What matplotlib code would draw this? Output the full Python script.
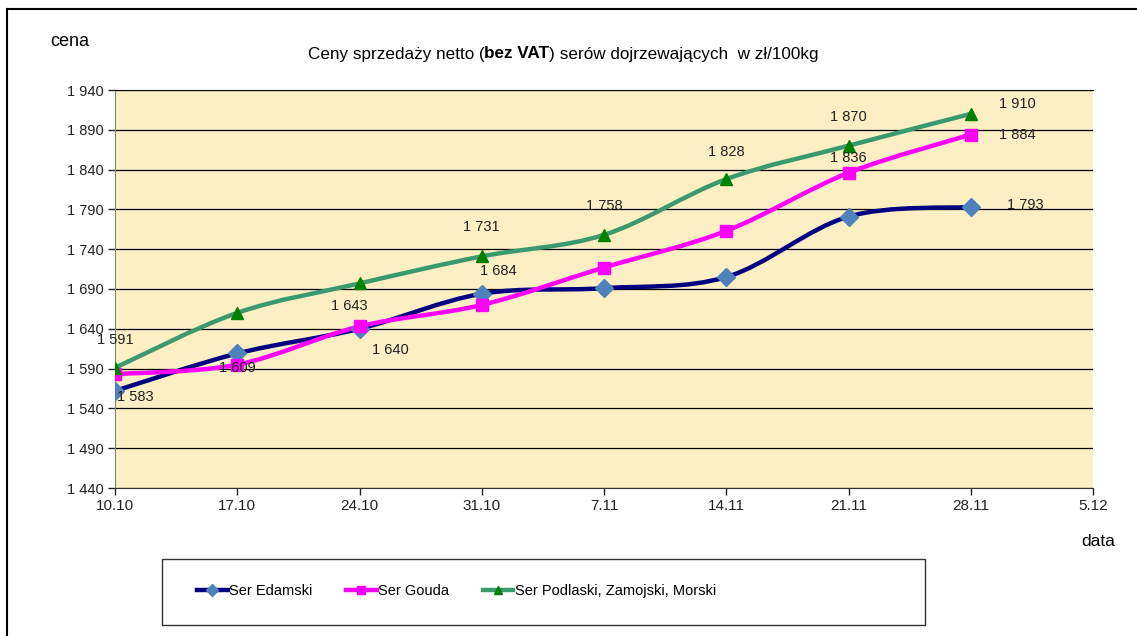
import matplotlib
matplotlib.use('Agg')
import matplotlib.pyplot as plt
import matplotlib.dates as mdates
import matplotlib.ticker as ticker
from matplotlib.path import Path
from matplotlib.patches import PathPatch, Rectangle
from matplotlib.lines import Line2D
import pandas as pd

plt.rcParams['font.family'] = ['Liberation Sans', 'DejaVu Sans']

# data
dates = ['10.10', '17.10', '24.10', '31.10', '7.11', '14.11', '21.11', '28.11']
tick_dates = dates + ['5.12']
y_ticks = [1440, 1490, 1540, 1590, 1640, 1690, 1740, 1790, 1840, 1890, 1940]
edamski = [1562, 1609, 1640, 1684, 1691, 1705, 1781, 1793]
gouda = [1583, 1595, 1643, 1670, 1717, 1763, 1836, 1884]
podlaski = [1591, 1660, 1697, 1731, 1758, 1828, 1870, 1910]
names = ['Ser Edamski', 'Ser Gouda', 'Ser Podlaski, Zamojski, Morski']

# which points carry a value label, and where (pixel offset: dx right, dy down)
labels_edamski = {1: (0, 15), 2: (31, 21), 3: (17, -23), 7: (55, -2)}
labels_gouda = {0: (20, 23), 2: (-10, -20), 6: (0, -15), 7: (47, 0)}
labels_podlaski = {0: (0, -28), 3: (0, -29), 4: (0, -29), 5: (0, -27), 6: (0, -29), 7: (47, -10)}


def to_num(labels):
    return [mdates.date2num(pd.Timestamp(2012, int(s.split('.')[1]), int(s.split('.')[0])))
            for s in labels]


def smooth_path(xs, ys):
    # Excel-like smoothed line: Catmull-Rom segments as cubic Beziers
    pts = list(zip(xs, ys))
    verts = [pts[0]]
    codes = [Path.MOVETO]
    n = len(pts)
    for i in range(n - 1):
        p0 = pts[i - 1] if i > 0 else pts[i]
        p1 = pts[i]
        p2 = pts[i + 1]
        p3 = pts[i + 2] if i + 2 < n else pts[i + 1]
        c1 = (p1[0] + (p2[0] - p0[0]) / 6, p1[1] + (p2[1] - p0[1]) / 6)
        c2 = (p2[0] - (p3[0] - p1[0]) / 6, p2[1] - (p3[1] - p1[1]) / 6)
        verts += [c1, c2, p2]
        codes += [Path.CURVE4] * 3
    return Path(verts, codes)


x = to_num(dates)
xt = to_num(tick_dates)

fig = plt.figure(figsize=(11.37, 6.36), dpi=100)
ax = fig.add_axes([115 / 1137, 1 - 488 / 636, 978 / 1137, 398 / 636])
ax.set_facecolor('#FDEFC4')

series = [
    (edamski, '#000080', 'D', '#4F81BD', 9, labels_edamski),
    (gouda, '#FF00FF', 's', '#FF00FF', 8, labels_gouda),
    (podlaski, '#3A9A6E', '^', '#008000', 9, labels_podlaski),
]

handles = []
for (vals, lc, mk, mc, ms, labs), name in zip(series, names):
    ax.add_patch(PathPatch(smooth_path(x, vals), fill=False, edgecolor=lc, lw=3.2,
                           capstyle='round', joinstyle='round', zorder=3))
    ax.plot(x, vals, linestyle='none', marker=mk, markersize=ms, markerfacecolor=mc,
            markeredgecolor=mc, zorder=4)
    for i, (dx, dy) in labs.items():
        txt = f"{vals[i]:,}".replace(',', ' ')
        ax.annotate(txt, xy=(x[i], vals[i]), xytext=(dx * 0.72, -dy * 0.72),
                    textcoords='offset points', ha='center', va='center',
                    fontsize=10.5, color='#222222', zorder=5)
    handles.append(Line2D([], [], color=lc, lw=3.2, marker=mk, markersize=6,
                          markerfacecolor=mc, markeredgecolor=mc))

ax.set_xlim(xt[0], xt[-1])
ax.set_ylim(y_ticks[0], y_ticks[-1])
ax.set_xticks(xt)
ax.set_xticklabels(tick_dates)
ax.set_yticks(y_ticks)
ax.yaxis.set_major_formatter(ticker.FuncFormatter(lambda v, p: f"{int(v):,}".replace(',', ' ')))
ax.tick_params(axis='y', labelsize=10.5, length=5, width=1, colors='#222222', pad=3)
ax.tick_params(axis='x', labelsize=11, length=5, width=1, colors='#222222', pad=3)
ax.grid(axis='y', color='black', lw=0.9)
ax.set_axisbelow(True)
ax.spines['right'].set_visible(False)
ax.spines['top'].set_color('black')
ax.spines['left'].set_color('#808080')
ax.spines['bottom'].set_color('#333333')

fig.text(50 / 1137, 1 - 42 / 636, 'cena', ha='left', va='center', fontsize=13)
fig.text(1098 / 1137, 1 - 542 / 636, 'data', ha='center', va='center', fontsize=12.5)

# title with bold part, laid out piece by piece
parts = [('Ceny sprzedaży netto ', 'normal'), ('(', 'normal'), ('bez VAT', 'bold'),
         (')', 'normal'), (' serów dojrzewających  w zł/100kg', 'normal')]
fig.canvas.draw()
renderer = fig.canvas.get_renderer()
objs = [fig.text(0, 1 - 54 / 636, s, fontsize=12.3, fontweight=w, va='center') for s, w in parts]
widths = [o.get_window_extent(renderer).width for o in objs]
xpos = 563 - sum(widths) / 2
for o, w in zip(objs, widths):
    o.set_x(xpos / 1137)
    xpos += w

# legend box and entries
fig.add_artist(Rectangle((162 / 1137, 1 - 625 / 636), 763 / 1137, 66 / 636,
                         transform=fig.transFigure, fill=False, edgecolor='#333333', lw=1))
fig.legend(handles, names, loc='center left', bbox_to_anchor=(197 / 1137, 1 - 591 / 636),
           ncol=3, frameon=False, fontsize=10.5, handlelength=2.1, handletextpad=0.1,
           columnspacing=2.3, borderaxespad=0, borderpad=0)

# outer frame of the original sheet
fig.add_artist(Line2D([7 / 1137, 7 / 1137], [0, 1 - 9 / 636], transform=fig.transFigure,
                      color='black', lw=1.5))
fig.add_artist(Line2D([7 / 1137, 1], [1 - 9 / 636, 1 - 9 / 636], transform=fig.transFigure,
                      color='black', lw=1.5))

fig.savefig('out.png', dpi=100)
